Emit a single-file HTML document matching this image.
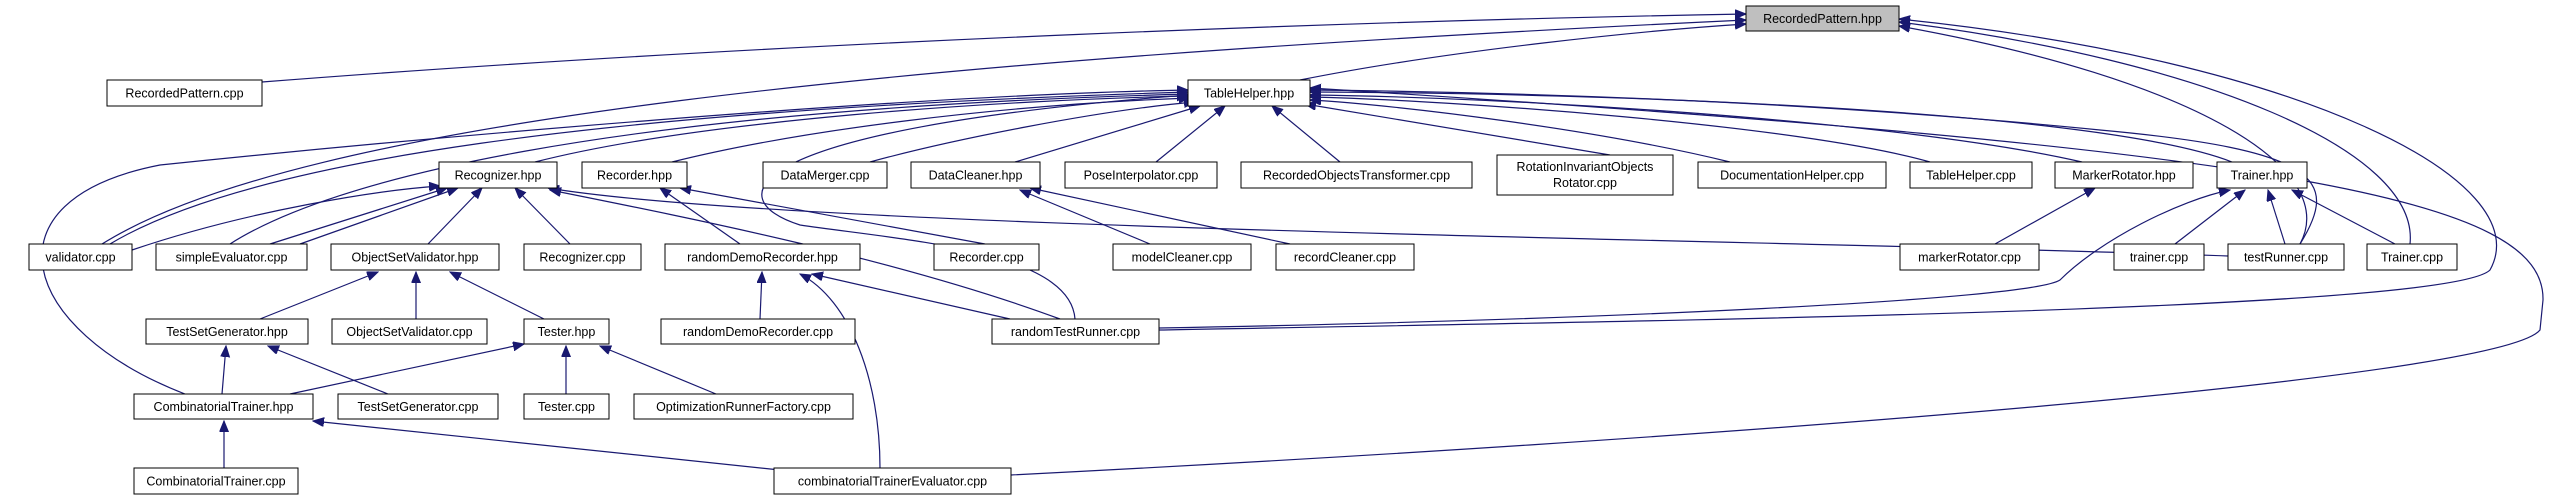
<!DOCTYPE html>
<html><head><meta charset="utf-8"><style>
html,body{margin:0;padding:0;background:#fff;}
svg{display:block;}
text{font-family:"Liberation Sans","DejaVu Sans",sans-serif;font-size:12.5px;fill:#000;}
.n{fill:#fff;stroke:#000;stroke-width:1;}
.e{fill:none;stroke:#191970;stroke-width:1.2;}
</style></head><body>
<svg width="2557" height="500" viewBox="0 0 2557 500" xmlns="http://www.w3.org/2000/svg">
<defs>
<marker id="a" markerUnits="userSpaceOnUse" markerWidth="12" markerHeight="10" refX="11" refY="4.5" orient="auto">
<path d="M0,0 L11,4.5 L0,9 z" fill="#191970" stroke="#191970"/>
</marker>
</defs>
<g class="e" marker-end="url(#a)">
<path d="M262,82 C800,40 1400,20 1746,14"/>
<path d="M1300,80 C1450,50 1650,30 1746,24"/>
<path d="M102,244 C300,120 900,60 1746,20"/>
<path d="M185,394 C20,330 -20,200 160,165 C400,140 900,95 1188,90"/>
<path d="M110,244 C250,160 600,110 1188,92"/>
<path d="M230,244 C330,180 600,110 1188,94"/>
<path d="M535,162 C700,120 1000,100 1188,96"/>
<path d="M672,162 C800,130 1000,105 1190,98"/>
<path d="M870,162 C950,140 1100,110 1195,102"/>
<path d="M1015,162 L1200,106"/>
<path d="M1156,162 L1225,106"/>
<path d="M1340,162 L1272,106"/>
<path d="M1610,155 L1305,104"/>
<path d="M1730,162 C1600,130 1400,105 1310,100"/>
<path d="M1930,162 C1800,125 1450,100 1310,97"/>
<path d="M2082,162 C1900,120 1500,97 1310,95"/>
<path d="M2232,162 C2100,110 1600,93 1310,92"/>
<path d="M2300,244 C2340,180 2320,150 2100,130 C1800,100 1500,92 1310,90"/>
<path d="M1011,475 C1700,440 2500,380 2540,330 L2543,300 C2545,200 2300,150 1310,88"/>
<path d="M2300,244 C2340,170 2200,80 1899,26"/>
<path d="M2410,244 C2420,150 2200,60 1899,22"/>
<path d="M1159,330 C1700,320 2450,310 2490,270 C2540,180 2300,60 1899,19"/>
<path d="M132,250 C250,210 380,190 440,186"/>
<path d="M270,244 L447,188"/>
<path d="M300,244 L458,188"/>
<path d="M428,244 L482,188"/>
<path d="M570,244 L515,188"/>
<path d="M2228,256 C1800,240 800,230 548,188"/>
<path d="M1060,319 C900,260 700,220 550,190"/>
<path d="M985,244 L680,188"/>
<path d="M740,244 L660,188"/>
<path d="M1075,319 C1070,250 900,240 800,225 C720,200 730,130 1188,95"/>
<path d="M1150,244 L1020,190"/>
<path d="M1290,244 L1030,188"/>
<path d="M1995,244 L2095,188"/>
<path d="M1159,328 C1600,320 2030,300 2060,280 C2100,240 2180,200 2230,190"/>
<path d="M2175,244 L2245,190"/>
<path d="M2285,244 L2268,190"/>
<path d="M2395,244 L2292,190"/>
<path d="M260,319 L378,272"/>
<path d="M416,319 L416,272"/>
<path d="M544,319 L450,272"/>
<path d="M760,319 L762,272"/>
<path d="M1010,319 L812,274"/>
<path d="M880,468 C880,380 850,300 800,274"/>
<path d="M222,394 L226,346"/>
<path d="M388,394 L268,346"/>
<path d="M290,394 L524,344"/>
<path d="M566,394 L566,346"/>
<path d="M716,394 L600,346"/>
<path d="M224,468 L224,421"/>
<path d="M780,470 L313,421"/>
</g>
<g>
<rect x="1746" y="6" width="153" height="25" fill="#bfbfbf" stroke="#000"/><text x="1822.5" y="23" text-anchor="middle">RecordedPattern.hpp</text>
<rect class="n" x="107" y="80" width="155" height="26"/><text x="184.5" y="97.5" text-anchor="middle">RecordedPattern.cpp</text>
<rect class="n" x="1188" y="80" width="122" height="26"/><text x="1249" y="97.5" text-anchor="middle">TableHelper.hpp</text>

<rect class="n" x="439" y="162" width="118" height="26"/><text x="498" y="179.5" text-anchor="middle">Recognizer.hpp</text>
<rect class="n" x="582" y="162" width="105" height="26"/><text x="634.5" y="179.5" text-anchor="middle">Recorder.hpp</text>
<rect class="n" x="763" y="162" width="124" height="26"/><text x="825" y="179.5" text-anchor="middle">DataMerger.cpp</text>
<rect class="n" x="911" y="162" width="129" height="26"/><text x="975.5" y="179.5" text-anchor="middle">DataCleaner.hpp</text>
<rect class="n" x="1065" y="162" width="152" height="26"/><text x="1141" y="179.5" text-anchor="middle">PoseInterpolator.cpp</text>
<rect class="n" x="1241" y="162" width="231" height="26"/><text x="1356.5" y="179.5" text-anchor="middle">RecordedObjectsTransformer.cpp</text>
<rect class="n" x="1497" y="155" width="176" height="40"/><text x="1585" y="171" text-anchor="middle">RotationInvariantObjects</text><text x="1585" y="187" text-anchor="middle">Rotator.cpp</text>
<rect class="n" x="1698" y="162" width="188" height="26"/><text x="1792" y="179.5" text-anchor="middle">DocumentationHelper.cpp</text>
<rect class="n" x="1910" y="162" width="122" height="26"/><text x="1971" y="179.5" text-anchor="middle">TableHelper.cpp</text>
<rect class="n" x="2055" y="162" width="138" height="26"/><text x="2124" y="179.5" text-anchor="middle">MarkerRotator.hpp</text>
<rect class="n" x="2217" y="162" width="90" height="26"/><text x="2262" y="179.5" text-anchor="middle">Trainer.hpp</text>

<rect class="n" x="29" y="244" width="103" height="26"/><text x="80.5" y="261.5" text-anchor="middle">validator.cpp</text>
<rect class="n" x="156" y="244" width="151" height="26"/><text x="231.5" y="261.5" text-anchor="middle">simpleEvaluator.cpp</text>
<rect class="n" x="331" y="244" width="168" height="26"/><text x="415" y="261.5" text-anchor="middle">ObjectSetValidator.hpp</text>
<rect class="n" x="524" y="244" width="117" height="26"/><text x="582.5" y="261.5" text-anchor="middle">Recognizer.cpp</text>
<rect class="n" x="665" y="244" width="195" height="26"/><text x="762.5" y="261.5" text-anchor="middle">randomDemoRecorder.hpp</text>
<rect class="n" x="934" y="244" width="105" height="26"/><text x="986.5" y="261.5" text-anchor="middle">Recorder.cpp</text>
<rect class="n" x="1113" y="244" width="138" height="26"/><text x="1182" y="261.5" text-anchor="middle">modelCleaner.cpp</text>
<rect class="n" x="1276" y="244" width="138" height="26"/><text x="1345" y="261.5" text-anchor="middle">recordCleaner.cpp</text>
<rect class="n" x="1900" y="244" width="139" height="26"/><text x="1969.5" y="261.5" text-anchor="middle">markerRotator.cpp</text>
<rect class="n" x="2114" y="244" width="90" height="26"/><text x="2159" y="261.5" text-anchor="middle">trainer.cpp</text>
<rect class="n" x="2228" y="244" width="116" height="26"/><text x="2286" y="261.5" text-anchor="middle">testRunner.cpp</text>
<rect class="n" x="2367" y="244" width="90" height="26"/><text x="2412" y="261.5" text-anchor="middle">Trainer.cpp</text>

<rect class="n" x="146" y="319" width="162" height="25"/><text x="227" y="336" text-anchor="middle">TestSetGenerator.hpp</text>
<rect class="n" x="332" y="319" width="155" height="25"/><text x="409.5" y="336" text-anchor="middle">ObjectSetValidator.cpp</text>
<rect class="n" x="524" y="319" width="85" height="25"/><text x="566.5" y="336" text-anchor="middle">Tester.hpp</text>
<rect class="n" x="661" y="319" width="194" height="25"/><text x="758" y="336" text-anchor="middle">randomDemoRecorder.cpp</text>
<rect class="n" x="992" y="319" width="167" height="25"/><text x="1075.5" y="336" text-anchor="middle">randomTestRunner.cpp</text>

<rect class="n" x="134" y="394" width="179" height="25"/><text x="223.5" y="411" text-anchor="middle">CombinatorialTrainer.hpp</text>
<rect class="n" x="338" y="394" width="160" height="25"/><text x="418" y="411" text-anchor="middle">TestSetGenerator.cpp</text>
<rect class="n" x="524" y="394" width="85" height="25"/><text x="566.5" y="411" text-anchor="middle">Tester.cpp</text>
<rect class="n" x="634" y="394" width="219" height="25"/><text x="743.5" y="411" text-anchor="middle">OptimizationRunnerFactory.cpp</text>

<rect class="n" x="134" y="468" width="164" height="26"/><text x="216" y="485.5" text-anchor="middle">CombinatorialTrainer.cpp</text>
<rect class="n" x="774" y="468" width="237" height="26"/><text x="892.5" y="485.5" text-anchor="middle">combinatorialTrainerEvaluator.cpp</text>
</g>
</svg>
</body></html>
